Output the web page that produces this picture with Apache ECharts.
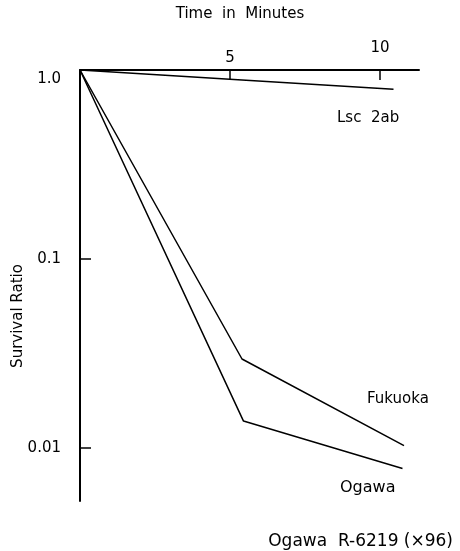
<!DOCTYPE html>
<html><head><meta charset="utf-8">
<script src="https://cdn.jsdelivr.net/npm/echarts@6/dist/echarts.min.js"></script>
<style>html,body{margin:0;padding:0;background:#fff}#c{width:460px;height:551px}</style>
</head><body><div id="c"></div>
<script>
const xTicks = [5, 10];
const yTicks = [1, 0.1, 0.01];
const lscX = [0, 5.4, 10.45];
const lscY = [1, 0.885, 0.79];
const fukuokaX = [0, 5.4, 10.8];
const fukuokaY = [1, 0.0296, 0.0103];
const ogawaX = [0, 5.45, 10.75];
const ogawaY = [1, 0.0139, 0.0078];
const seriesNames = ['Lsc 2ab', 'Fukuoka', 'Ogawa'];

const FONT = 'DejaVu Sans';
const f = s => s + 'px "' + FONT + '"';
const zip = (xs, ys) => xs.map((x, i) => [x, ys[i]]);
const chart = echarts.init(document.getElementById('c'), null, {renderer: 'canvas'});
const lineSeries = (name, xs, ys) => ({
  name, type: 'line', data: zip(xs, ys), symbol: 'none',
  lineStyle: {color: '#000', width: 1.5}, animation: false
});
chart.setOption({
  animation: false,
  backgroundColor: '#fff',
  grid: {left: 80, top: 70, width: 339, height: 431, containLabel: false},
  xAxis: {
    type: 'value', position: 'top', min: 0, max: 11.3,
    splitLine: {show: false},
    axisLine: {lineStyle: {color: '#000', width: 2}},
    axisTick: {inside: true, length: 10, lineStyle: {color: '#000', width: 1.5}, customValues: xTicks},
    axisLabel: {customValues: xTicks, color: '#000', fontFamily: FONT, fontSize: 15, margin: 4,
      formatter: v => v === 10 ? '{b|10}' : '{a|' + v + '}',
      rich: {a: {fontFamily: FONT, fontSize: 15, color: '#000', padding: [0, 0, 0, 0]},
             b: {fontFamily: FONT, fontSize: 15, color: '#000', padding: [0, 0, 10, 0]}}}
  },
  yAxis: {
    type: 'log', logBase: 10, min: 0.00525, max: 1,
    splitLine: {show: false},
    axisLine: {lineStyle: {color: '#000', width: 2}},
    axisTick: {inside: true, length: 11, lineStyle: {color: '#000', width: 1.5}, customValues: [0.1, 0.01]},
    axisLabel: {customValues: yTicks, color: '#000', fontFamily: FONT, fontSize: 15, margin: 19,
      formatter: v => v >= 1 ? '{t|1.0}' : (v >= 0.1 ? '0.1' : '0.01'),
      rich: {t: {fontFamily: FONT, fontSize: 15, color: '#000', padding: [18, 0, 0, 0]}}}
  },
  graphic: [
    {type: 'text', x: 240, y: 14, style: {text: 'Time  in  Minutes', font: f(15), fill: '#000', align: 'center', verticalAlign: 'middle'}},
    {type: 'text', x: 18, y: 316, rotation: Math.PI / 2, style: {text: 'Survival Ratio', font: f(15), fill: '#000', align: 'center', verticalAlign: 'middle'}},
    {type: 'text', x: 337, y: 118, style: {text: 'Lsc  2ab', font: f(15), fill: '#000', verticalAlign: 'middle'}},
    {type: 'text', x: 367, y: 399, style: {text: seriesNames[1], font: f(15), fill: '#000', verticalAlign: 'middle'}},
    {type: 'text', x: 340, y: 488, style: {text: seriesNames[2], font: f(16), fill: '#000', verticalAlign: 'middle'}},
    {type: 'text', x: 453, y: 542, style: {text: 'Ogawa  R-6219 (×96)', font: f(17), fill: '#000', align: 'right', verticalAlign: 'middle'}}
  ],
  series: [
    lineSeries(seriesNames[0], lscX, lscY),
    lineSeries(seriesNames[1], fukuokaX, fukuokaY),
    lineSeries(seriesNames[2], ogawaX, ogawaY)
  ]
});
</script></body></html>
